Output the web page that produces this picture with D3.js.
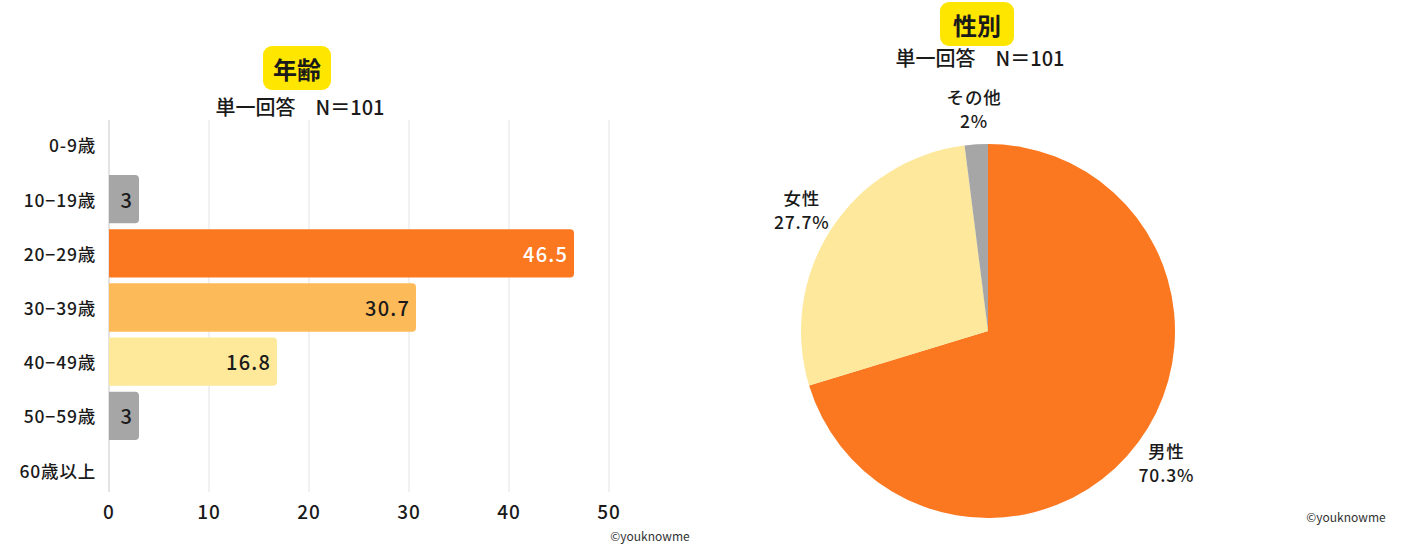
<!DOCTYPE html>
<html>
<head>
<meta charset="utf-8">
<script src="https://cdn.jsdelivr.net/npm/d3@7"></script>
<style>
  body { margin: 0; background: #fff; }
  svg text { font-family: "Noto Sans CJK JP", "Noto Sans", sans-serif; fill: #1a1a1a; }
</style>
</head>
<body>
<div id="chart"></div>
<script>
// age question
const ageCategories = ["0-9歳", "10−19歳", "20−29歳", "30−39歳", "40−49歳", "50−59歳", "60歳以上"];
const ageValues = [0, 3, 46.5, 30.7, 16.8, 3, 0];
const ageColors = ["#a6a6a6", "#a6a6a6", "#fb7820", "#fdba58", "#fee99b", "#a6a6a6", "#a6a6a6"];
const ageTicks = [0, 10, 20, 30, 40, 50];

// gender question
const genderLabels = ["男性", "女性", "その他"];
const genderValues = [70.3, 27.7, 2];
const genderText = ["70.3%", "27.7%", "2%"];
const genderColors = ["#fb7820", "#fde89b", "#a6a6a6"];

const W = 1403, H = 544;
const svg = d3.select("#chart").append("svg")
    .attr("width", W)
    .attr("height", H);

// title badge + subtitle
function titleBlock(cx, cy, label, bw, subY) {
    svg.append("rect")
        .attr("x", cx - bw / 2).attr("y", cy - 22)
        .attr("width", bw).attr("height", 44)
        .attr("rx", 9)
        .attr("fill", "#ffe600");
    svg.append("text")
        .attr("x", cx).attr("y", cy)
        .attr("text-anchor", "middle")
        .attr("dominant-baseline", "central")
        .attr("font-size", 24).attr("font-weight", 700)
        .text(label);
    svg.append("text")
        .attr("x", cx + 3).attr("y", subY)
        .attr("text-anchor", "middle")
        .attr("dominant-baseline", "central")
        .attr("font-size", 20).attr("font-weight", 500)
        .text("単一回答\u3000N＝101");
}

// ---------- bar chart ----------
const bar = { left: 109, right: 609, top: 118, bottom: 497 };

const x = d3.scaleLinear()
    .domain([0, 50])
    .range([bar.left, bar.right]);

const y = d3.scaleBand()
    .domain(ageCategories)
    .range([bar.top, bar.bottom])
    .paddingInner(0.11)
    .paddingOuter(0.05);

titleBlock(297, 68, "年齢", 68, 106);

const g = svg.append("g");

// grid lines
g.selectAll(".grid")
    .data(ageTicks)
    .enter().append("line")
    .attr("class", "grid")
    .attr("x1", d => x(d)).attr("x2", d => x(d))
    .attr("y1", 120).attr("y2", 492)
    .attr("stroke", d => d === 0 ? "#c8c8c8" : "#e2e2e2")
    .attr("stroke-width", 1);

// tick labels
g.selectAll(".tick-label")
    .data(ageTicks)
    .enter().append("text")
    .attr("x", d => x(d))
    .attr("y", 510)
    .attr("text-anchor", "middle")
    .attr("dominant-baseline", "central")
    .attr("font-size", 19).attr("font-weight", 500)
    .attr("letter-spacing", 1)
    .text(d => d);

// category labels
g.selectAll(".cat-label")
    .data(ageCategories)
    .enter().append("text")
    .attr("x", 96)
    .attr("y", d => y(d) + y.bandwidth() / 2)
    .attr("text-anchor", "end")
    .attr("dominant-baseline", "central")
    .attr("font-size", 17.5).attr("font-weight", 500)
    .attr("letter-spacing", 0.8)
    .text(d => d);

// bar with rounded right end
function barPath(x0, x1, y0, h, r) {
    r = Math.min(r, (x1 - x0) / 2, h / 2);
    return `M${x0},${y0}H${x1 - r}Q${x1},${y0} ${x1},${y0 + r}V${y0 + h - r}Q${x1},${y0 + h} ${x1 - r},${y0 + h}H${x0}Z`;
}

const barData = ageCategories.map((c, i) => ({ cat: c, v: ageValues[i], color: ageColors[i] }))
    .filter(d => d.v > 0);

g.selectAll(".bar")
    .data(barData)
    .enter().append("path")
    .attr("class", "bar")
    .attr("d", d => barPath(x(0), x(d.v), y(d.cat), y.bandwidth(), 4))
    .attr("fill", d => d.color);

g.selectAll(".bar-label")
    .data(barData)
    .enter().append("text")
    .attr("x", d => x(d.v) - 6)
    .attr("y", d => y(d.cat) + y.bandwidth() / 2)
    .attr("text-anchor", "end")
    .attr("dominant-baseline", "central")
    .attr("font-size", 20).attr("font-weight", 500)
    .attr("letter-spacing", 1.2)
    .style("fill", d => d.v > 40 ? "#ffffff" : "#1a1a1a")
    .text(d => d.v);

svg.append("text")
    .attr("x", 650).attr("y", 535)
    .attr("text-anchor", "middle")
    .attr("dominant-baseline", "central")
    .attr("font-size", 12)
    .style("fill", "#333")
    .text("©youknowme");

// ---------- pie chart ----------
titleBlock(977, 24, "性別", 74, 57);

const cx = 988, cy = 331, radius = 187;

const pie = d3.pie().sort(null).value(d => d.v);
const pieData = pie(genderLabels.map((l, i) => ({ label: l, v: genderValues[i], t: genderText[i], color: genderColors[i] })));

const arc = d3.arc().innerRadius(0).outerRadius(radius);
const labelArc = d3.arc().innerRadius(222).outerRadius(222);

const pg = svg.append("g").attr("transform", `translate(${cx},${cy})`);

pg.selectAll(".slice")
    .data(pieData)
    .enter().append("path")
    .attr("d", arc)
    .attr("fill", d => d.data.color);

const lab = pg.selectAll(".slice-label")
    .data(pieData)
    .enter().append("text")
    .attr("transform", d => `translate(${labelArc.centroid(d)})`)
    .attr("text-anchor", "middle")
    .attr("font-size", 17.5).attr("font-weight", 500)
    .attr("letter-spacing", 0.8);

lab.append("tspan").attr("x", 0).attr("dy", "-0.3em").text(d => d.data.label);
lab.append("tspan").attr("x", 0).attr("dy", "1.35em").text(d => d.data.t);

svg.append("text")
    .attr("x", 1346).attr("y", 516)
    .attr("text-anchor", "middle")
    .attr("dominant-baseline", "central")
    .attr("font-size", 12)
    .style("fill", "#333")
    .text("©youknowme");
</script>
</body>
</html>
